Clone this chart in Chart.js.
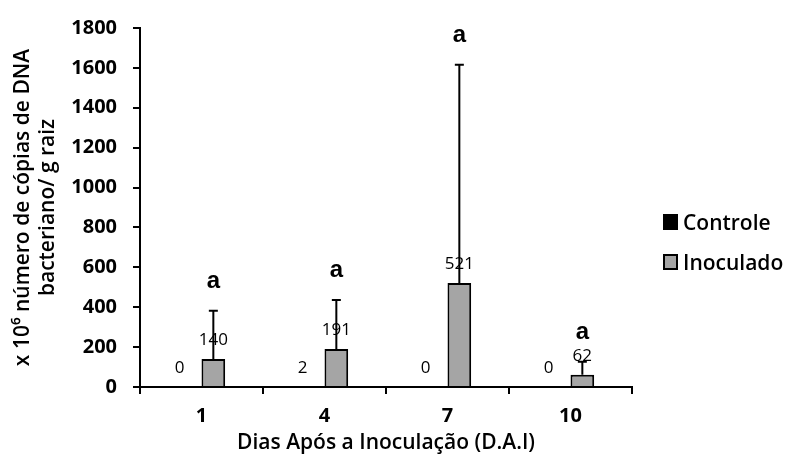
<!DOCTYPE html>
<html lang="pt">
  <head>
    <meta charset="utf-8">
    <title>DNA bacteriano</title>
    <script src="https://cdn.jsdelivr.net/npm/chart.js@4.4.0/dist/chart.umd.min.js"></script>
    <style>
      body { margin: 0; background: #fff; }
    </style>
  </head>
  <body>
    <canvas id="myChart" width="785" height="463"></canvas>
    <script>
      // data
      const days = ['1', '4', '7', '10'];
      const controle = [0, 2, 0, 0];
      const inoculado = [140, 191, 521, 62];
      const inoculadoErr = [242, 245, 1095, 64];   // upper error bar
      const letters = ['a', 'a', 'a', 'a'];

      const FONT = '"Open Sans", "DejaVu Sans", sans-serif';

      // error bars, letters, value labels and legend
      const extras = {
        id: 'extras',
        afterDatasetsDraw(chart) {
          const ctx = chart.ctx;
          const y = chart.scales.y;
          ctx.save();
          ctx.strokeStyle = '#000';
          ctx.fillStyle = '#000';
          ctx.lineWidth = 2;
          ctx.textAlign = 'center';
          ctx.textBaseline = 'alphabetic';

          chart.getDatasetMeta(1).data.forEach((bar, i) => {
            const top = y.getPixelForValue(inoculado[i] + inoculadoErr[i]);
            ctx.beginPath();
            ctx.moveTo(bar.x, bar.y);
            ctx.lineTo(bar.x, top);
            ctx.moveTo(bar.x - 4.5, top);
            ctx.lineTo(bar.x + 4.5, top);
            ctx.stroke();
            ctx.font = 'bold 24px "Liberation Sans", Arial, sans-serif';
            ctx.fillText(letters[i], bar.x, top - 23);
          });

          ctx.font = '500 17px ' + FONT;
          chart.data.datasets.forEach((ds, d) => {
            chart.getDatasetMeta(d).data.forEach((bar, i) => {
              ctx.fillText(String(ds.data[i]), bar.x + (d === 0 ? -10 : 0), bar.y - 14);
            });
          });

          // legend
          ctx.font = '600 21px ' + FONT;
          ctx.textAlign = 'left';
          chart.data.datasets.forEach((ds, d) => {
            const cy = 222 + d * 40;
            ctx.fillStyle = ds.backgroundColor;
            ctx.fillRect(664, cy - 7, 13, 14);
            ctx.strokeRect(664, cy - 7, 13, 14);
            ctx.fillStyle = '#000';
            ctx.fillText(ds.label, 683, cy + 7.5);
          });
          ctx.restore();
        }
      };

      new Chart(document.getElementById('myChart'), {
        type: 'bar',
        data: {
          labels: days,
          datasets: [
            { label: 'Controle', data: controle, backgroundColor: '#000000', borderColor: '#000', borderWidth: 2 },
            { label: 'Inoculado', data: inoculado, backgroundColor: '#a5a5a5', borderColor: '#000', borderWidth: 2 }
          ]
        },
        options: {
          responsive: false,
          animation: false,
          devicePixelRatio: 1,
          categoryPercentage: 0.385,
          barPercentage: 1,
          layout: { padding: { top: 19, right: 153, bottom: 0, left: 0 } },
          plugins: {
            legend: { display: false },
            tooltip: { enabled: false }
          },
          scales: {
            x: {
              grid: { offset: true, drawOnChartArea: false, tickLength: 7, color: '#000', lineWidth: 2 },
              border: { color: '#000', width: 2 },
              ticks: { color: '#000', padding: 10, font: { family: FONT, size: 20, weight: 'bold' } },
              title: {
                display: true,
                text: 'Dias Após a Inoculação (D.A.I)',
                color: '#000',
                font: { family: FONT, size: 21, weight: 600, lineHeight: 1.2 },
                padding: { top: 0, bottom: 7 }
              },
              afterFit(scale) { scale.height = 76; }
            },
            y: {
              min: 0,
              max: 1800,
              grid: { drawOnChartArea: false, tickLength: 7, color: '#000', lineWidth: 2 },
              border: { color: '#000', width: 2 },
              ticks: {
                stepSize: 200,
                color: '#000',
                padding: 16,
                font: { family: FONT, size: 20, weight: 'bold' },
                callback: (v) => String(v)
              },
              title: {
                display: true,
                text: ['x 10\u2076 número de cópias de DNA', 'bacteriano/ g raiz'],
                color: '#000',
                font: { family: FONT, size: 21, weight: 600, lineHeight: 1.2 },
                padding: { top: 10, bottom: 0 }
              },
              afterFit(scale) { scale.width = 140; }
            }
          }
        },
        plugins: [extras]
      });
    </script>
  </body>
</html>
